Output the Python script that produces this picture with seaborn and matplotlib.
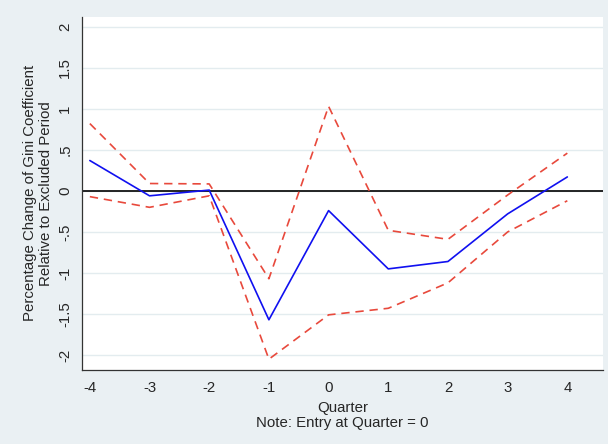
import numpy as np
import pandas as pd
import matplotlib
matplotlib.use('Agg')
import matplotlib.pyplot as plt
import seaborn as sns

# Data
quarters = [-4, -3, -2, -1, 0, 1, 2, 3, 4]
estimate = [0.37, -0.06, 0.01, -1.57, -0.24, -0.95, -0.86, -0.28, 0.17]
upper_ci = [0.82, 0.09, 0.085, -1.07, 1.03, -0.48, -0.59, -0.05, 0.46]
lower_ci = [-0.07, -0.2, -0.06, -2.05, -1.51, -1.43, -1.12, -0.5, -0.12]
yticks = [-2, -1.5, -1, -0.5, 0, 0.5, 1, 1.5, 2]
ytick_labels = ['-2', '-1.5', '-1', '-.5', '0', '.5', '1', '1.5', '2']

BG = '#eaf0f3'
FS = 10.8

sns.set_style('white')
plt.rcParams['font.family'] = ['Liberation Sans', 'DejaVu Sans']

df = pd.DataFrame({'Quarter': quarters, 'est': estimate, 'hi': upper_ci, 'lo': lower_ci})

fig = plt.figure(figsize=(6.08, 4.44), dpi=100, facecolor=BG)
ax = fig.add_axes([0.135, 0.167, 0.857, 0.795])
ax.set_facecolor('white')

for y in yticks:
    ax.axhline(y, color='#e3ecef', lw=1, zorder=0)
ax.axhline(0, color='black', lw=1.2, zorder=1)

sns.lineplot(data=df, x='Quarter', y='hi', ax=ax, color='#e8493c', lw=1.2,
             linestyle=(0, (5, 3.5)), zorder=2)
sns.lineplot(data=df, x='Quarter', y='lo', ax=ax, color='#e8493c', lw=1.2,
             linestyle=(0, (5, 3.5)), zorder=2)
sns.lineplot(data=df, x='Quarter', y='est', ax=ax, color='#1010f0', lw=1.2, zorder=3)

ax.set_xlim(-4.13, 4.6)
ax.set_ylim(-2.18, 2.12)
ax.set_xticks(quarters)
ax.set_xticklabels([str(q) for q in quarters], fontsize=FS)
ax.set_yticks(yticks)
ax.set_yticklabels(ytick_labels, fontsize=FS, rotation=90, va='center')

for s in ['top', 'right']:
    ax.spines[s].set_visible(False)
for s in ['left', 'bottom']:
    ax.spines[s].set_color('#333333')
    ax.spines[s].set_linewidth(0.9)
ax.tick_params(axis='both', direction='out', length=5, width=0.8, color='#333333', pad=3)
ax.tick_params(axis='y', pad=2)

ax.set_xlabel('Quarter\nNote: Entry at Quarter = 0', fontsize=FS, linespacing=1.15, labelpad=4)
ax.set_ylabel('Percentage Change of Gini Coefficient\nRelative to Excluded Period', fontsize=FS,
              linespacing=1.15)
ax.yaxis.set_label_coords(-0.056, 0.5)

fig.savefig('out.png', dpi=100, facecolor=BG)
